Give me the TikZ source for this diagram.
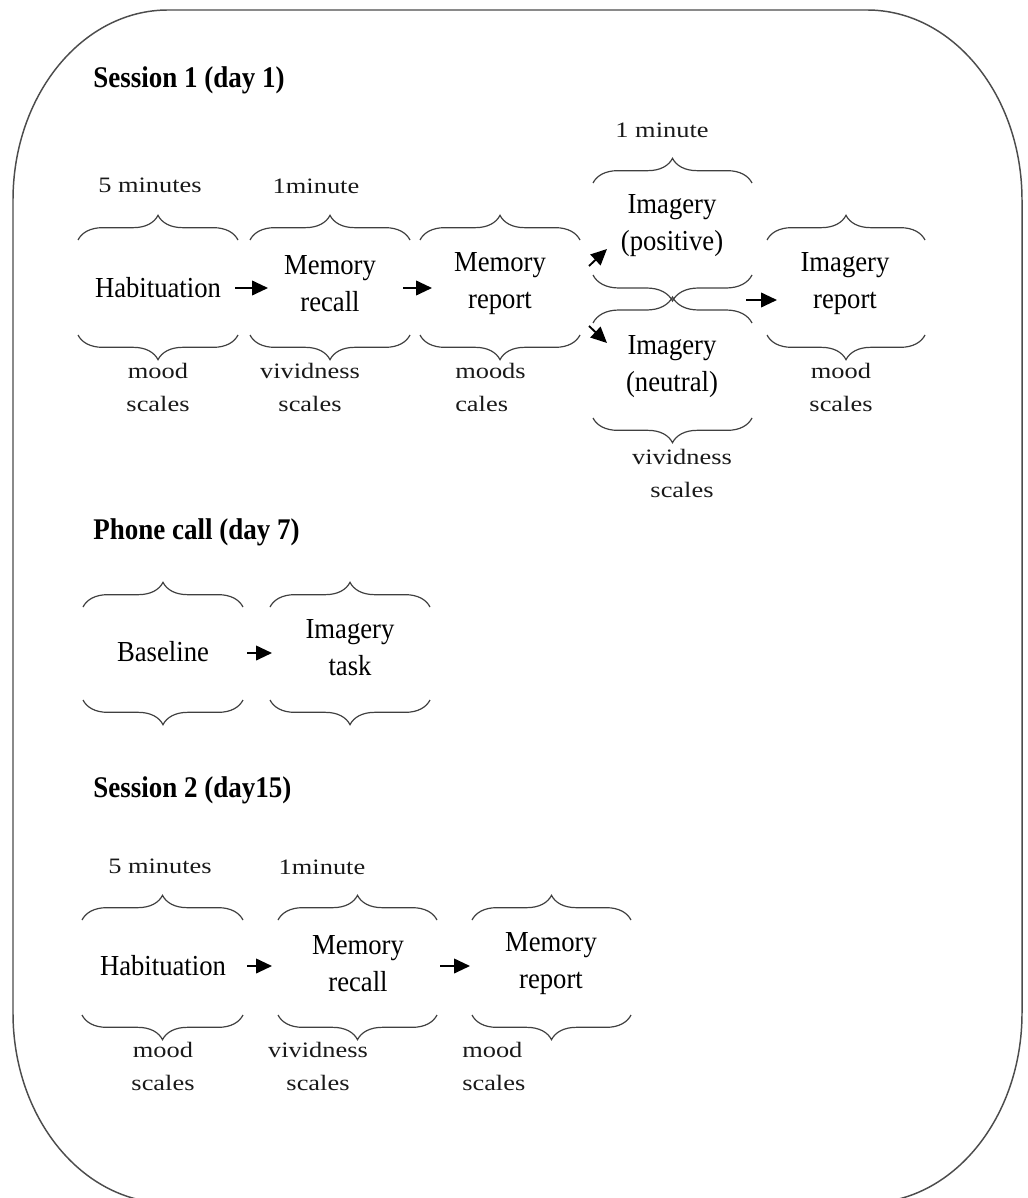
\documentclass[tikz,border=0pt]{standalone}
\usepackage{fontspec}
\setmainfont{Liberation Serif}
\newfontfamily\bigf{Liberation Serif}[FakeStretch=0.92]
\newfontfamily\smlf{Liberation Serif}[FakeStretch=1.2]
\newfontfamily\ttlf{Liberation Serif}[FakeStretch=0.9]
\usetikzlibrary{decorations.pathreplacing,arrows.meta,calc}
\begin{document}
\begin{tikzpicture}[x=0.75pt,y=-0.75pt,
  lbl/.style={font=\bigf\fontsize{21.75}{27.75}\selectfont, align=center, inner sep=0pt},
  sml/.style={font=\smlf\fontsize{16.5}{24.75}\selectfont, align=center, inner sep=0pt, text=black!90},
  ttl/.style={font=\ttlf\bfseries\fontsize{22.5}{24}\selectfont, anchor=west, inner sep=0pt},
  brc/.style={decorate, decoration={brace, amplitude=18.5pt}, line width=0.9pt, draw=black!75},
  pbrc/.style={decorate, decoration={brace, amplitude=19.5pt}, line width=0.9pt, draw=black!75},
  arr/.style={-{Triangle[length=12pt,width=11pt]}, line width=1.4pt},
]
\useasboundingbox (0,0) rectangle (1027,1198);
% outer frame
\draw[line width=1.1pt, draw=black!70]
  (168,10) -- (867,10) .. controls (952.6,10) and (1022,95) .. (1022,200)
  -- (1022,1013) .. controls (1022,1118) and (952.6,1203) .. (867,1203)
  -- (168,1203) .. controls (82.4,1203) and (13,1118) .. (13,1013)
  -- (13,200) .. controls (13,95) and (82.4,10) .. (168,10) -- cycle;

% ---------- Session 1 ----------
\node[ttl] (t1) at (93,80) {Session 1 (day 1)};
\node[sml] (d1) at (150,185) {5 minutes};
\node[sml] (d2) at (316,186) {1minute};
\node[sml] (d3) at (662,130) {1 minute};
\node[lbl] (hab1) at (158,288) {Habituation};
\node[lbl] (rec1) at (330,284) {Memory\\recall};
\node[lbl] (rep1) at (500,284) {Memory\\report};
\node[lbl] (pos) at (672,226) {Imagery\\(positive)};
\node[lbl] (neu) at (672,367) {Imagery\\(neutral)};
\node[lbl] (irep) at (845,284) {Imagery\\report};
\node[sml] (s1) at (158,387) {mood\\scales};
\node[sml] (s2) at (310,387) {vividness\\scales};
\node[sml, align=left, anchor=west] (s3) at (455,387) {moods\\cales};
\node[sml] (s4) at (682,473) {vividness\\scales};
\node[sml] (s5) at (841,387) {mood\\scales};

\draw[brc] (78,240) -- (238,240);  \draw[brc] (238,335) -- (78,335);
\draw[brc] (250,240) -- (410,240); \draw[brc] (410,335) -- (250,335);
\draw[brc] (420,240) -- (580,240); \draw[brc] (580,335) -- (420,335);
\draw[brc] (767,240) -- (925,240); \draw[brc] (925,335) -- (767,335);
\draw[brc] (593,183) -- (752,183);
\draw[pbrc] (752,275) -- (593,275);
\draw[pbrc] (593,323) -- (752,323);
\draw[brc] (752,418) -- (593,418);

\coordinate (a1s) at (235,288); \coordinate (a1e) at (268,288);
\coordinate (a2s) at (403,288); \coordinate (a2e) at (432,288);
\coordinate (a3s) at (589,266); \coordinate (a3e) at (607,249);
\coordinate (a4s) at (589,326); \coordinate (a4e) at (607,343);
\coordinate (a5s) at (746,300); \coordinate (a5e) at (777,300);
\draw[arr] (a1s) -- (a1e);
\draw[arr] (a2s) -- (a2e);
\draw[arr] (a3s) -- (a3e);
\draw[arr] (a4s) -- (a4e);
\draw[arr] (a5s) -- (a5e);

% ---------- Phone call ----------
\node[ttl] (t2) at (93,532) {Phone call (day 7)};
\node[lbl] (base) at (163,652) {Baseline};
\node[lbl] (itask) at (350,648) {Imagery\\task};
\draw[brc] (83,607) -- (243,607);  \draw[brc] (243,700) -- (83,700);
\draw[brc] (270,607) -- (430,607); \draw[brc] (430,700) -- (270,700);
\coordinate (b1s) at (247,653); \coordinate (b1e) at (272,653);
\draw[arr] (b1s) -- (b1e);

% ---------- Session 2 ----------
\node[ttl] (t3) at (93,790) {Session 2 (day15)};
\node[sml] (e1) at (160,866) {5 minutes};
\node[sml] (e2) at (322,867) {1minute};
\node[lbl] (hab2) at (163,966) {Habituation};
\node[lbl] (rec2) at (358,964) {Memory\\recall};
\node[lbl] (rep2) at (551,964) {Memory\\report};
\node[sml] (u1) at (163,1066) {mood\\scales};
\node[sml] (u2) at (318,1066) {vividness\\scales};
\node[sml, align=left, anchor=west] (u3) at (462,1066) {mood\\scales};
\draw[brc] (82,920) -- (243,920);  \draw[brc] (243,1015) -- (82,1015);
\draw[brc] (278,920) -- (437,920); \draw[brc] (437,1015) -- (278,1015);
\draw[brc] (472,920) -- (631,920); \draw[brc] (631,1015) -- (472,1015);
\coordinate (c1s) at (247,966); \coordinate (c1e) at (272,966);
\coordinate (c2s) at (440,966); \coordinate (c2e) at (470,966);
\draw[arr] (c1s) -- (c1e);
\draw[arr] (c2s) -- (c2e);
\end{tikzpicture}
\end{document}
